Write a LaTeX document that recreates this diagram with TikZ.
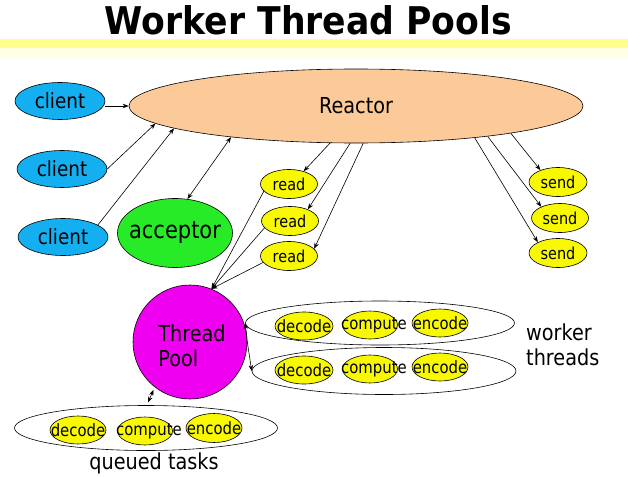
\documentclass[tikz,border=0pt]{standalone}
\usepackage{fontspec}
\setmainfont{DejaVu Sans}[FakeStretch=0.875]
\usetikzlibrary{shapes.geometric,arrows.meta}
\definecolor{clientblue}{RGB}{20,175,240}
\definecolor{reactorpeach}{RGB}{251,202,152}
\definecolor{accgreen}{RGB}{40,235,40}
\definecolor{itemyellow}{RGB}{248,248,0}
\definecolor{poolmagenta}{RGB}{240,0,240}
\definecolor{baryellow}{RGB}{255,255,140}
\definecolor{barlight}{RGB}{255,255,228}
\begin{document}
\begin{tikzpicture}[x=1pt,y=-1pt,
  ell/.style={ellipse, draw, line width=0.6pt, inner sep=0pt},
  big/.style={font=\fontsize{21}{25}\selectfont},
  small/.style={font=\fontsize{16.5}{20}\selectfont},
  task/.style={font=\fontsize{17}{20}\selectfont},
  arr/.style={-{Stealth[length=6pt,width=4.5pt]}, line width=0.6pt},
  dbl/.style={{Stealth[length=6pt,width=4.5pt]}-{Stealth[length=6pt,width=4.5pt]}, line width=0.6pt},
  client/.style={ell, fill=clientblue, minimum width=90pt, minimum height=37pt},
  rd/.style={ell, fill=itemyellow, minimum width=57pt, minimum height=29pt},
  tk/.style={ell, fill=itemyellow, minimum width=56pt, minimum height=28pt},
  group/.style={ell, fill=white}
]
\fill[white] (0,0) rectangle (628,476);
\useasboundingbox (0,0) rectangle (628,476);
\fill[barlight] (0,48) rectangle (628,57);
\fill[baryellow] (0,39) rectangle (628,48);

\node[anchor=base, inner sep=0pt] (title) at (308.5,35)
  {\resizebox{407pt}{29pt}{\bfseries Worker Thread Pools}};

% main nodes
\node[ell, fill=reactorpeach, minimum width=454pt, minimum height=74pt,
  label={[font=\fontsize{22}{25}\selectfont]center:Reactor}] (reactor) at (356,106) {};
\node[client, label={[big]center:client}] (client1) at (60,101) {};
\node[client, label={[big]center:client}] (client2) at (62,169) {};
\node[client, label={[big]center:client}] (client3) at (63,237) {};
\node[ell, fill=accgreen, minimum width=115pt, minimum height=69pt,
  label={[font=\fontsize{24}{28}\selectfont]center:acceptor}] (acceptor) at (175,233) {};

\node[rd, label={[small]center:read}] (read1) at (289,184) {};
\node[rd, label={[small]center:read}] (read2) at (290,221) {};
\node[rd, label={[small]center:read}] (read3) at (289,256) {};
\node[rd, minimum width=58pt, label={[small]center:send}] (send1) at (558,182) {};
\node[rd, label={[small]center:send}] (send2) at (560,218) {};
\node[rd, minimum width=58pt, label={[small]center:send}] (send3) at (558,253) {};

\node[circle, draw, line width=0.6pt, fill=poolmagenta, minimum size=114pt, inner sep=0pt,
  label={[align=left, font=\fontsize{22}{25}\selectfont, xshift=2pt, yshift=-4pt]center:Thread\\Pool}] (pool) at (190,342) {};

% worker threads
\node[group, minimum width=269pt, minimum height=44pt] (w1) at (380,323) {};
\node[group, minimum width=264pt, minimum height=47pt] (w2) at (384,371) {};
\node[tk, minimum width=58pt, label={[task]center:decode}] (w1dec) at (304,326) {};
\node[tk, minimum width=55pt, label={[task,xshift=4pt]center:compute}] (w1com) at (370,325) {};
\node[tk, label={[task]center:encode}] (w1enc) at (440,323) {};
\node[tk, minimum width=58pt, label={[task]center:decode}] (w2dec) at (304,370) {};
\node[tk, minimum width=55pt, label={[task,xshift=4pt]center:compute}] (w2com) at (370,369) {};
\node[tk, label={[task]center:encode}] (w2enc) at (440,367) {};
\node[anchor=west, align=left, inner sep=0pt, font=\fontsize{22}{25}\selectfont] (wlabel) at (526,345) {worker\\threads};

% queued tasks
\node[group, minimum width=263pt, minimum height=45pt] (queue) at (146,428) {};
\node[tk, label={[task]center:decode}] (qdec) at (78,430) {};
\node[tk, minimum width=55pt, label={[task,xshift=4pt]center:compute}] (qcom) at (145,431) {};
\node[tk, minimum height=29pt, label={[task]center:encode}] (qenc) at (214,428) {};
\node[inner sep=0pt, font=\fontsize{22}{25}\selectfont] (qlabel) at (154,463) {queued tasks};

% connectors
\draw[arr] (client1.east |- reactor.west) -- (reactor.west);
\draw[arr] (client2.east) -- (reactor.185);
\draw[arr] (client3.19) -- (reactor.187);
\draw[dbl] (acceptor.70) -- (reactor.194);

\draw[arr] (reactor.235) -- (read1.41);
\draw[arr] (reactor.261) -- (read2.33);
\draw[arr] (reactor.281) -- (read3.16);
\draw[arr] (reactor.350.5) -- (send1.146);
\draw[arr] (reactor.347) -- (send2.149);
\draw[arr] (reactor.345) -- (send3.152);

\draw[arr] (read1.196) -- (pool.68);
\draw[arr] (read2.195) -- (pool.68);
\draw[arr] (read3.194) -- (pool.68);

\draw[arr] (pool.east) -- (w1.west);
\draw[arr] (pool.east) -- (w2.west);
\draw[dbl, shorten <=3pt, shorten >=3pt] (queue.88) -- (pool.232);
\end{tikzpicture}
\end{document}
